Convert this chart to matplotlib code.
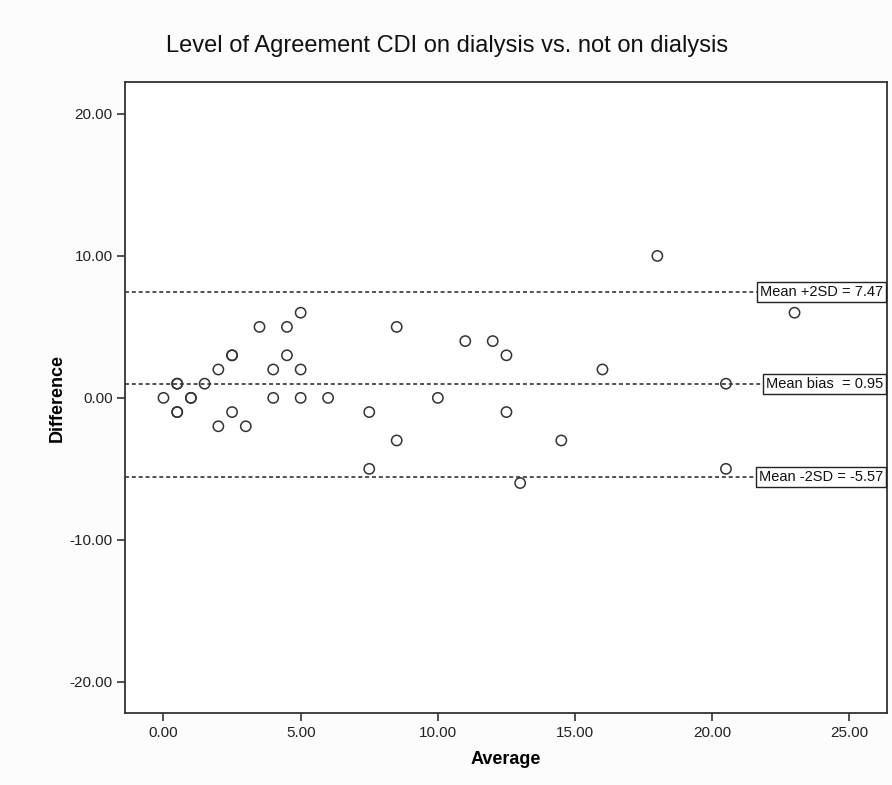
import matplotlib
matplotlib.use("Agg")
import matplotlib.pyplot as plt
import matplotlib.transforms as mtransforms

plt.rcParams["font.family"] = ["Liberation Sans", "DejaVu Sans"]

# %%
## data
average = [0, 0.5, 0.5, 0.5, 0.5, 1, 1, 1.5, 2, 2, 2.5, 2.5, 2.5, 3, 3.5, 4, 4,
           4.5, 4.5, 5, 5, 5, 6, 7.5, 7.5, 8.5, 8.5, 10, 11, 12, 12.5, 12.5,
           13, 14.5, 16, 18, 20.5, 20.5, 23]
difference = [0, 1, 1, -1, -1, 0, 0, 1, 2, -2, 3, 3, -1, -2, 5, 2, 0,
              5, 3, 6, 2, 0, 0, -1, -5, 5, -3, 0, 4, 4, 3, -1,
              -6, -3, 2, 10, 1, -5, 6]

limit_values = [7.47, 0.95, -5.57]
limit_labels = ["Mean +2SD = 7.47", "Mean bias  = 0.95", "Mean -2SD = -5.57"]

x_ticks = [0, 5, 10, 15, 20, 25]
y_ticks = [-20, -10, 0, 10, 20]

# %%
fig = plt.figure(figsize=(8.92, 7.85), dpi=100, facecolor="#fcfcfc")
ax = fig.add_axes([0.1402, 0.0917, 0.8545, 0.8038])
ax.set_facecolor("white")

ax.scatter(average, difference, s=55, facecolors="none", edgecolors="#333333",
           linewidths=1.1, zorder=3)

trans = mtransforms.blended_transform_factory(ax.transAxes, ax.transData)
for value, label in zip(limit_values, limit_labels):
    ax.axhline(value, color="#444444", linestyle=(0, (2.2, 1.6)), linewidth=1.3,
               zorder=2)
    ax.annotate(label, xy=(1, value), xycoords=trans, xytext=(-3, 0),
                textcoords="offset points", ha="right", va="center",
                fontsize=10.5, color="#111111", zorder=4,
                bbox=dict(boxstyle="square,pad=0.2", fc="white", ec="#222222",
                          lw=1.0))

ax.set_xlim(-1.40, 26.38)
ax.set_ylim(-22.2, 22.25)
ax.set_xticks(x_ticks)
ax.set_yticks(y_ticks)
ax.xaxis.set_major_formatter(lambda v, p: f"{v:.2f}")
ax.yaxis.set_major_formatter(lambda v, p: f"{v:.2f}")
ax.tick_params(axis="both", direction="out", length=6, width=1.2,
               color="#333333", labelsize=11, labelcolor="#222222", pad=3)
for side in ax.spines.values():
    side.set_color("#333333")
    side.set_linewidth(1.3)

ax.set_xlabel("Average", fontsize=13, fontweight="bold", labelpad=8)
ax.set_ylabel("Difference", fontsize=13, fontweight="bold", labelpad=3)
fig.text(0.501, 0.941, "Level of Agreement CDI on dialysis vs. not on dialysis",
         ha="center", va="center", fontsize=17, color="#111111")

fig.savefig("out.png", dpi=100, facecolor=fig.get_facecolor())
